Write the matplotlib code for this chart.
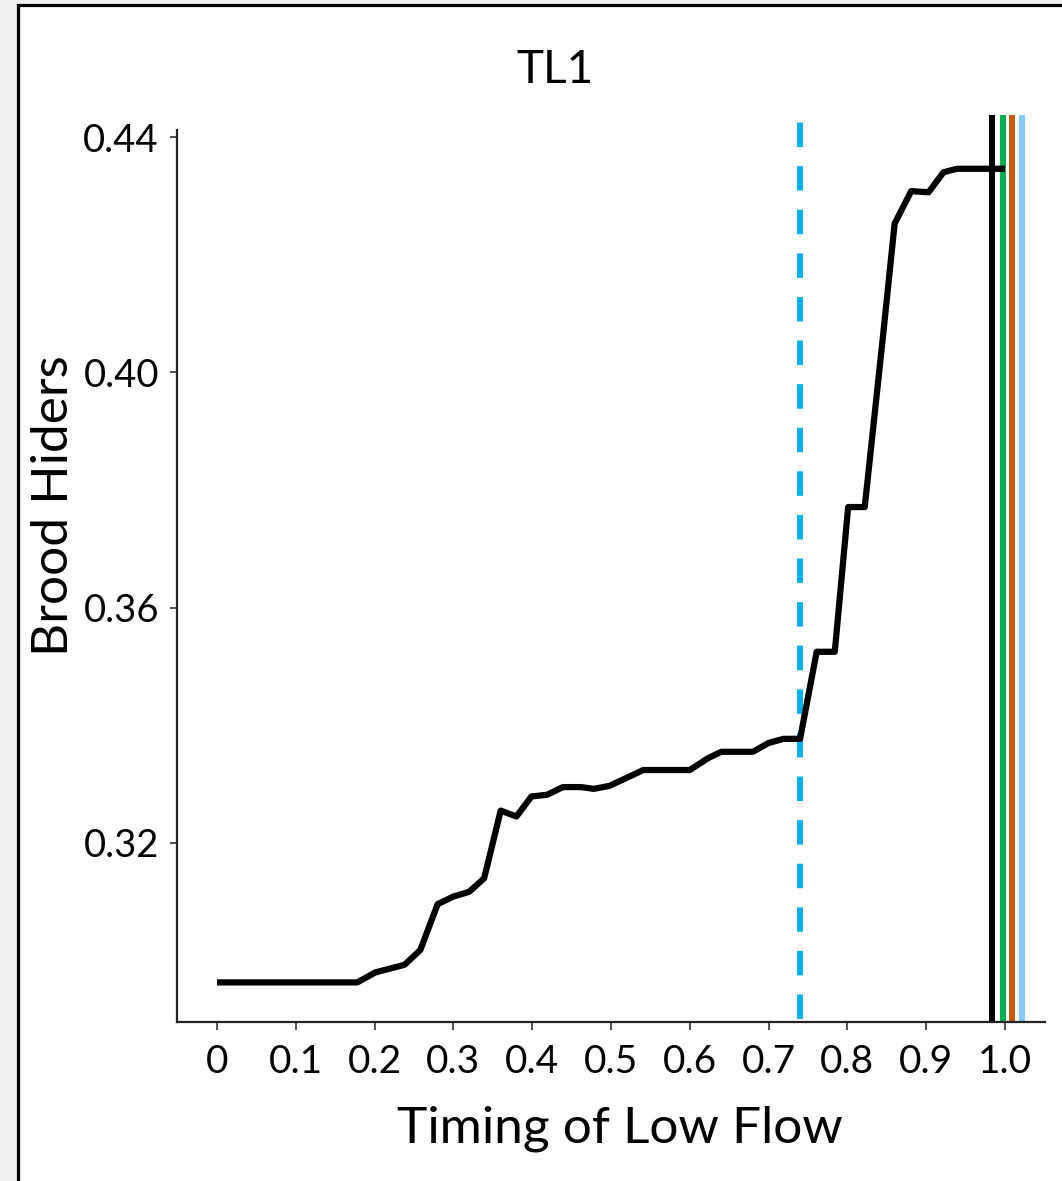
import matplotlib
matplotlib.use("Agg")
import matplotlib.pyplot as plt
from matplotlib.patches import Rectangle

# ---- data ----
timing = [0.0, 0.178, 0.201, 0.238, 0.258, 0.280, 0.300, 0.320, 0.339, 0.360,
          0.380, 0.399, 0.419, 0.439, 0.462, 0.478, 0.498, 0.541, 0.600, 0.623,
          0.640, 0.680, 0.700, 0.719, 0.740, 0.761, 0.784, 0.801, 0.822, 0.845,
          0.860, 0.881, 0.903, 0.922, 0.939, 1.0]
brood_hiders = [0.2963, 0.2963, 0.2980, 0.2993, 0.3018, 0.3096, 0.3109, 0.3117, 0.3140, 0.3255,
                0.3245, 0.3279, 0.3282, 0.3295, 0.3295, 0.3292, 0.3297, 0.3324, 0.3324, 0.3344,
                0.3355, 0.3355, 0.3370, 0.3377, 0.3377, 0.3525, 0.3525, 0.3771, 0.3771, 0.4059,
                0.4253, 0.4308, 0.4306, 0.4340, 0.4346, 0.4346]

dashed_line_x = 0.74
solid_lines_x = [0.983, 0.997, 1.009, 1.022]
solid_colors = ["#000000", "#00B050", "#C55A11", "#85C8FF"]
dashed_color = "#00B0F0"

x_ticks = [0, 0.1, 0.2, 0.3, 0.4, 0.5, 0.6, 0.7, 0.8, 0.9, 1.0]
x_tick_labels = ["0", "0.1", "0.2", "0.3", "0.4", "0.5", "0.6", "0.7", "0.8", "0.9", "1.0"]
y_ticks = [0.32, 0.36, 0.40, 0.44]
y_tick_labels = ["0.32", "0.36", "0.40", "0.44"]

title = "TL1"
x_label = "Timing of Low Flow"
y_label = "Brood Hiders"

# ---- figure ----
W, H = 1062, 1181
FONT = "Lato"
WEIGHT = "normal"
plt.rcParams["font.family"] = [FONT, "DejaVu Sans"]
plt.rcParams["font.weight"] = WEIGHT

fig = plt.figure(figsize=(W / 100, H / 100), dpi=100)
fig.patch.set_facecolor("#f0f0f0")

# white card with black border
card = Rectangle((17.5 / W, -0.05), 1.2, 1 - 5.5 / H + 0.05, transform=fig.transFigure,
                 facecolor="white", edgecolor="black", linewidth=2.3, zorder=-10)
fig.patches.append(card)

ax_left, ax_right, ax_bottom, ax_top = 177, 1045, 1022, 115
ax = fig.add_axes([ax_left / W, 1 - ax_bottom / H, (ax_right - ax_left) / W, (ax_bottom - ax_top) / H])
ax.set_facecolor("none")
ax.set_zorder(5)

ax.set_xlim(-0.0508, 1.0508)
ax.set_ylim(0.28957, 0.44374)

# reference lines
ax.axvline(dashed_line_x, color=dashed_color, lw=4.3, dashes=(4.1, 3.2), ymin=0.003, zorder=2)
for xv, c in zip(solid_lines_x, solid_colors):
    ax.axvline(xv, color=c, lw=4.3, ymin=0.003, zorder=2)

ax.plot(timing, brood_hiders, color="black", lw=4.5, solid_joinstyle="round",
        solid_capstyle="butt", zorder=3)

for s in ["top", "right"]:
    ax.spines[s].set_visible(False)
for s in ["left", "bottom"]:
    ax.spines[s].set_linewidth(1.6)
    ax.spines[s].set_color("#222222")
ax.spines["left"].set_bounds(0.28957, 0.44119)

ax.set_xticks(x_ticks)
ax.set_xticklabels(x_tick_labels)
ax.set_yticks(y_ticks)
ax.set_yticklabels(y_tick_labels)
ax.tick_params(axis="x", length=6, width=1.2, color="#333333", pad=10, labelsize=28)
ax.tick_params(axis="y", length=5, width=1.2, color="#333333", pad=8, labelsize=27.5)
for lab in ax.get_xticklabels() + ax.get_yticklabels():
    lab.set_fontfamily([FONT, "DejaVu Sans"])
    lab.set_fontweight(WEIGHT)

fig.text(555 / W, 1 - 83 / H, title, ha="center", va="baseline", fontsize=33, fontweight=WEIGHT)
fig.text(620 / W, 1 - 1143 / H, x_label, ha="center", va="baseline", fontsize=37, fontweight=WEIGHT)
fig.text(31 / W, 1 - 506 / H, y_label, ha="left", va="center", rotation=90, fontsize=37,
         fontweight=WEIGHT)

fig.savefig("out.png", dpi=100, facecolor=fig.get_facecolor())
